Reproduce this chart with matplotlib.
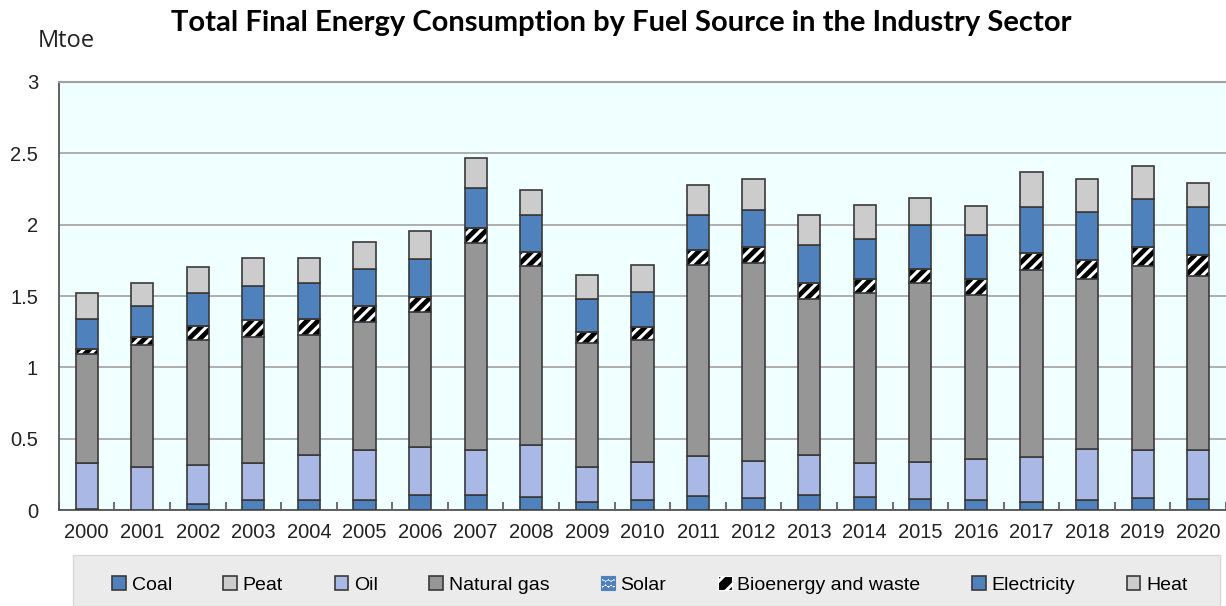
import numpy as np
import matplotlib
matplotlib.use('Agg')
import matplotlib.pyplot as plt
from matplotlib.patches import Rectangle, Patch

# Data (Mtoe), per year
years = [str(y) for y in range(2000, 2021)]
coal = [0.005, 0.0, 0.04, 0.07, 0.07, 0.07, 0.105, 0.105, 0.093, 0.058, 0.07,
        0.10, 0.086, 0.105, 0.093, 0.075, 0.07, 0.058, 0.07, 0.086, 0.08]
peat = [0.0] * 21
oil = [0.325, 0.30, 0.275, 0.26, 0.315, 0.35, 0.335, 0.315, 0.362, 0.242, 0.27,
       0.28, 0.259, 0.28, 0.237, 0.265, 0.285, 0.312, 0.36, 0.334, 0.34]
natural_gas = [0.76, 0.86, 0.875, 0.88, 0.845, 0.90, 0.95, 1.45, 1.255, 0.87, 0.85,
               1.34, 1.385, 1.095, 1.19, 1.25, 1.155, 1.31, 1.19, 1.29, 1.22]
solar = [0.0] * 21
bioenergy = [0.04, 0.05, 0.10, 0.12, 0.11, 0.11, 0.105, 0.11, 0.10, 0.08, 0.09,
             0.10, 0.11, 0.11, 0.10, 0.10, 0.11, 0.12, 0.13, 0.13, 0.15]
electricity = [0.21, 0.22, 0.23, 0.24, 0.25, 0.26, 0.265, 0.28, 0.26, 0.23, 0.25,
               0.25, 0.26, 0.27, 0.28, 0.31, 0.31, 0.325, 0.34, 0.34, 0.335]
heat = [0.18, 0.16, 0.18, 0.195, 0.175, 0.19, 0.195, 0.21, 0.17, 0.17, 0.19,
        0.21, 0.22, 0.21, 0.24, 0.19, 0.20, 0.245, 0.23, 0.23, 0.165]

series = [
    ('Coal', coal, '#4F81BD', None),
    ('Peat', peat, '#CCCCCC', None),
    ('Oil', oil, '#A9B8E4', None),
    ('Natural gas', natural_gas, '#969696', None),
    ('Solar', solar, '#FFFFFF', '....'),
    ('Bioenergy and waste', bioenergy, '#000000', '///'),
    ('Electricity', electricity, '#4F81BD', None),
    ('Heat', heat, '#CCCCCC', None),
]

plt.rcParams['font.family'] = ['Liberation Sans', 'DejaVu Sans']
plt.rcParams['hatch.linewidth'] = 2.2

fig = plt.figure(figsize=(12.26, 6.06), dpi=100)
ax = fig.add_axes([0.048, 0.1584, 0.952, 0.7063])
ax.set_facecolor('#F0FFFF')

x = np.arange(len(years))
width = 0.4
edge = '#3A3A3A'
bottom = np.zeros(len(years))
handles = []
for name, vals, color, hatch in series:
    vals = np.array(vals)
    if hatch == '///':
        # black bar with white stripes, then the dark outline on top
        ax.bar(x, vals, width, bottom=bottom, color=color, edgecolor='white',
               hatch=hatch, linewidth=0, zorder=3)
        ax.bar(x, vals, width, bottom=bottom, facecolor='none', edgecolor=edge,
               linewidth=1.2, zorder=4)
        handles.append(Patch(facecolor='black', edgecolor='white', hatch='//',
                             linewidth=0.8, label=name))
    elif hatch:
        ax.bar(x, vals, width, bottom=bottom, color=color, edgecolor='#4F81BD',
               hatch=hatch, linewidth=1.2, zorder=3)
        handles.append(Patch(facecolor='white', edgecolor='#4F81BD', hatch='ooo',
                             linewidth=0.8, label=name))
    else:
        ax.bar(x, vals, width, bottom=bottom, color=color, edgecolor=edge,
               linewidth=1.2, zorder=3)
        handles.append(Patch(facecolor=color, edgecolor=edge, linewidth=1.2, label=name))
    bottom += vals

ax.set_xlim(-0.5, len(years) - 0.5)
ax.set_ylim(0, 3)
ax.set_yticks([0, 0.5, 1, 1.5, 2, 2.5, 3])
ax.set_yticklabels(['0', '0.5', '1', '1.5', '2', '2.5', '3'])
ax.yaxis.grid(True, color='#A8A8A8', linewidth=1.3, zorder=0)
ax.set_axisbelow(True)

# category axis: labels at centres, tick marks between categories
ax.set_xticks(x)
ax.set_xticklabels(years)
ax.set_xticks(np.arange(-0.5, len(years), 1), minor=True)
ax.tick_params(axis='x', which='major', length=0, pad=9, labelsize=14.5, colors='#222222')
ax.tick_params(axis='x', which='minor', length=6, width=1.2, direction='in', color='#555555')
ax.tick_params(axis='y', length=0, pad=15, labelsize=14.5, colors='#222222')

for side in ['left', 'bottom']:
    ax.spines[side].set_color('#555555')
    ax.spines[side].set_linewidth(1.3)
ax.spines['right'].set_visible(False)
ax.spines['top'].set_color('#A0A0A0')
ax.spines['top'].set_linewidth(1.5)

fig.text(0.507, 0.962, 'Total Final Energy Consumption by Fuel Source in the Industry Sector',
         ha='center', va='center', fontsize=21, fontweight='bold', family='Lato')
fig.text(0.031, 0.933, 'Mtoe', ha='left', va='center', fontsize=17, family='Open Sans',
         color='#222222')

# legend panel
fig.patches.append(Rectangle((73 / 1226, 0), (1220 - 73) / 1226, 51 / 606,
                             transform=fig.transFigure, facecolor='#EBEBEB',
                             edgecolor='#D8D8D8', linewidth=1))
fig.legend(handles=handles, loc='center', bbox_to_anchor=(0.530, 0.035), ncol=8,
           frameon=False, fontsize=14, handlelength=0.7, handleheight=0.7,
           handletextpad=0.3, columnspacing=2.65)

fig.savefig('out.png', dpi=100)
